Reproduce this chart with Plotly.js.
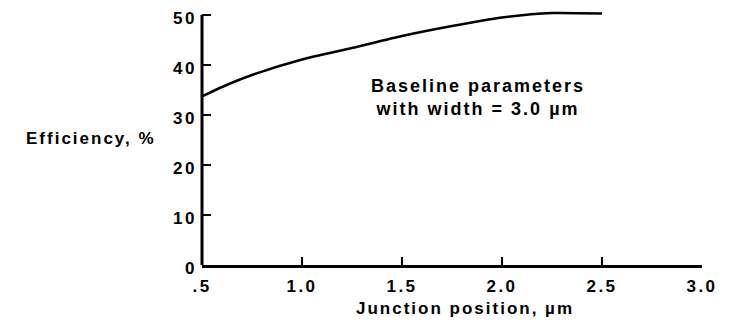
<!DOCTYPE html>
<html>
<head>
<meta charset="utf-8">
<script src="https://cdn.plot.ly/plotly-3.0.1.min.js"></script>
<style>
html,body{margin:0;padding:0;background:#fff;}
#chart{width:730px;height:324px;}
.main-svg text{letter-spacing:2px;}
.main-svg .xtick text,.main-svg .ytick text{letter-spacing:2.5px;}
</style>
</head>
<body>
<div id="chart"></div>
<script>
const junctionPosition = [0.5, 0.6, 0.75, 1.0, 1.25, 1.5, 1.75, 2.0, 2.25, 2.5];
const efficiency = [33.7, 35.6, 38.0, 41.1, 43.4, 45.8, 47.8, 49.5, 50.4, 50.3];
const xTickVals = [0.5, 1.0, 1.5, 2.0, 2.5, 3.0];
const xTickText = [".5", "1.0", "1.5", "2.0", "2.5", "3.0"];
const yTickVals = [0, 10, 20, 30, 40, 50];
const yTickText = ["0", "10", "20", "30", "40", "50"];

const fontFam = "Liberation Sans, Arial, sans-serif";
const tickFont = {family: fontFam, size: 17, color: "#000", weight: "bold"};

const trace = {
  x: junctionPosition,
  y: efficiency,
  type: "scatter",
  mode: "lines",
  line: {color: "#000", width: 2.5, shape: "spline", smoothing: 0.6},
  hoverinfo: "skip",
  showlegend: false
};

const layout = {
  width: 730, height: 324,
  margin: {l: 202, r: 28, t: 10, b: 59},
  paper_bgcolor: "#fff", plot_bgcolor: "#fff",
  xaxis: {
    range: [0.5, 3.0],
    tickvals: xTickVals, ticktext: xTickText,
    ticks: "inside", ticklen: 8, tickwidth: 1.5, tickcolor: "#000",
    showline: true, linewidth: 3, linecolor: "#000",
    showgrid: false, zeroline: false,
    tickfont: tickFont, ticklabelstandoff: 4
  },
  yaxis: {
    range: [0, 51],
    tickvals: yTickVals, ticktext: yTickText,
    ticks: "inside", ticklen: 9, tickwidth: 1.5, tickcolor: "#000",
    showline: false,
    showgrid: false, zeroline: false,
    tickfont: tickFont, ticklabelstandoff: 4, ticklabelshift: 3
  },
  shapes: [
    {type: "line", xref: "paper", yref: "y", x0: 0, x1: 0, y0: 0, y1: 50,
     line: {color: "#000", width: 3}}
  ],
  annotations: [
    {text: "Efficiency, %", xref: "paper", yref: "y", x: -0.114, y: 25.3,
     xanchor: "right", yanchor: "middle", showarrow: false,
     font: {family: fontFam, size: 17, color: "#000", weight: "bold"}},
    {text: "Junction position, µm", xref: "x", yref: "paper", x: 1.815, y: 0,
     xanchor: "center", yanchor: "middle", yshift: -43, showarrow: false,
     font: {family: fontFam, size: 17, color: "#000", weight: "bold"}},
    {text: "Baseline parameters<br>with width = 3.0 µm", xref: "x", yref: "y",
     x: 1.88, y: 33.5, xanchor: "center", yanchor: "middle", showarrow: false,
     align: "center",
     font: {family: fontFam, size: 18, color: "#000", weight: "bold"}}
  ]
};

Plotly.newPlot("chart", [trace], layout, {staticPlot: true, displayModeBar: false});
</script>
</body>
</html>
